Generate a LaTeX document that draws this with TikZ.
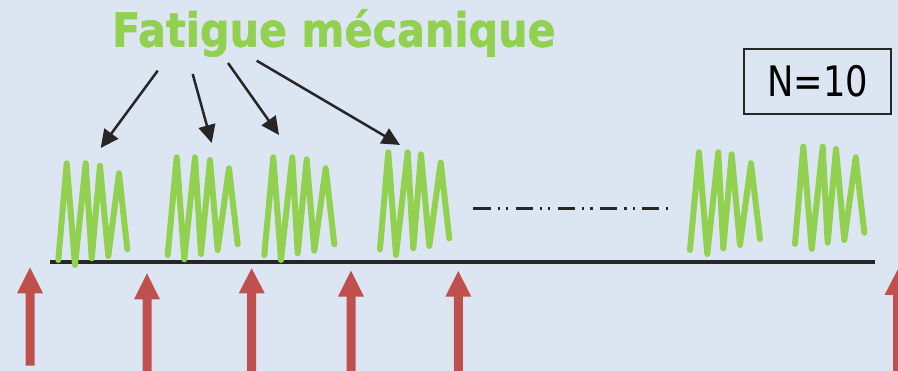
\documentclass[tikz,border=0pt]{standalone}
\usepackage{fontspec}
\setmainfont{DejaVu Sans}
\newfontfamily\titlefont[FakeBold=1.2]{DejaVu Sans Bold}
\usetikzlibrary{arrows.meta}
\definecolor{bg}{HTML}{DCE6F2}
\definecolor{fgreen}{HTML}{92D050}
\definecolor{fred}{HTML}{C0504D}
\definecolor{fdark}{HTML}{262626}
\tikzset{
  pointer/.style={draw=fdark, line width=2.5pt, -{Triangle[length=18pt,width=17pt]}},
  zig/.style={draw=fgreen, line width=6pt, line cap=round, line join=round},
}
\begin{document}
\begin{tikzpicture}[x=1pt,y=-1pt]
\fill[bg] (0,0) rectangle (898,371);
\clip (0,0) rectangle (898,371);
\useasboundingbox (0,0) rectangle (898,371);

% title
\node[anchor=base west, inner sep=0pt, text=fgreen, font=\fontsize{47}{50}\titlefont] (title) at (112,46.7) {\scalebox{0.88}[1]{Fatigue mécanique}};

% N=10 box
\node[draw=fdark, line width=2pt, minimum width=146.7pt, minimum height=64.7pt, inner sep=0pt, font=\fontsize{42}{44}\selectfont] (nbox) at (817.7,81.7) {\scalebox{0.84}[1]{N=10}};

% baseline
\coordinate (bl) at (50,262);
\coordinate (br) at (875,262);
\draw[fdark, line width=3.5pt] (bl) -- (br);

% dash-dot line
\coordinate (dl) at (473.3,208.3);
\coordinate (dr) at (668,208.3);
\draw[fdark, line width=2.5pt, dash pattern=on 17.3pt off 7pt on 2.3pt off 6pt on 2.3pt off 7.3pt] (dl) -- (dr);

% zigzags
\draw[zig] (58.3,260)--(66.7,163.3)--(75,265)--(85.7,163.3)--(91.7,258.3)--(100,165.7)--(108.3,256)--(119,173.3)--(127.3,249.3);
\draw[zig] (167.7,255)--(176.7,157.3)--(184.3,259.3)--(195,157.3)--(201,254)--(210,160)--(217.7,250)--(229,168.3)--(237.7,244.3);
\draw[zig] (264.3,255)--(273.3,157.3)--(281,260)--(292.3,157.3)--(297.7,253.3)--(306.7,159.3)--(314.3,250.7)--(325.7,168.3)--(334.3,244.3);
\draw[zig] (380,249.3)--(388.3,152.3)--(396,255)--(407.7,152.3)--(413.3,248.3)--(421,154.3)--(429.3,246)--(440.7,162.7)--(449.3,238.3);
\draw[zig] (690,250)--(699,152.3)--(707.3,254)--(718.3,152.3)--(723.3,248.3)--(731.7,154.3)--(740,245)--(751,163.3)--(760,239);
\draw[zig] (795,244)--(803.3,146.7)--(811.7,249)--(822.7,146.7)--(827.7,242.7)--(836,149)--(844.3,240)--(855.7,157.3)--(864.3,232.7);

% pointer arrows from title
\coordinate (s1) at (157.7,70.7);
\coordinate (t1) at (100.7,148);
\coordinate (s2) at (192.7,74);
\coordinate (t2) at (211.7,143);
\coordinate (s3) at (228,63);
\coordinate (t3) at (279,135);
\coordinate (s4) at (256.7,60.7);
\coordinate (t4) at (400,145);
\draw[pointer] (s1) -- (t1);
\draw[pointer] (s2) -- (t2);
\draw[pointer] (s3) -- (t3);
\draw[pointer] (s4) -- (t4);

% red block arrows (cx, tip y, head base y, bottom y)
\foreach \cx/\ty/\hy/\by in {30/267.3/293.3/365.7, 147/273.3/299.3/372, 251.7/268.3/293.3/372, 351/270.7/296.7/372, 458.3/271/296.7/372, 897.5/270/295/372}{
  \fill[fred] (\cx,\ty) -- (\cx+13,\hy) -- (\cx+4.5,\hy) -- (\cx+4.5,\by) -- (\cx-4.5,\by) -- (\cx-4.5,\hy) -- (\cx-13,\hy) -- cycle;
}
\end{tikzpicture}
\end{document}
